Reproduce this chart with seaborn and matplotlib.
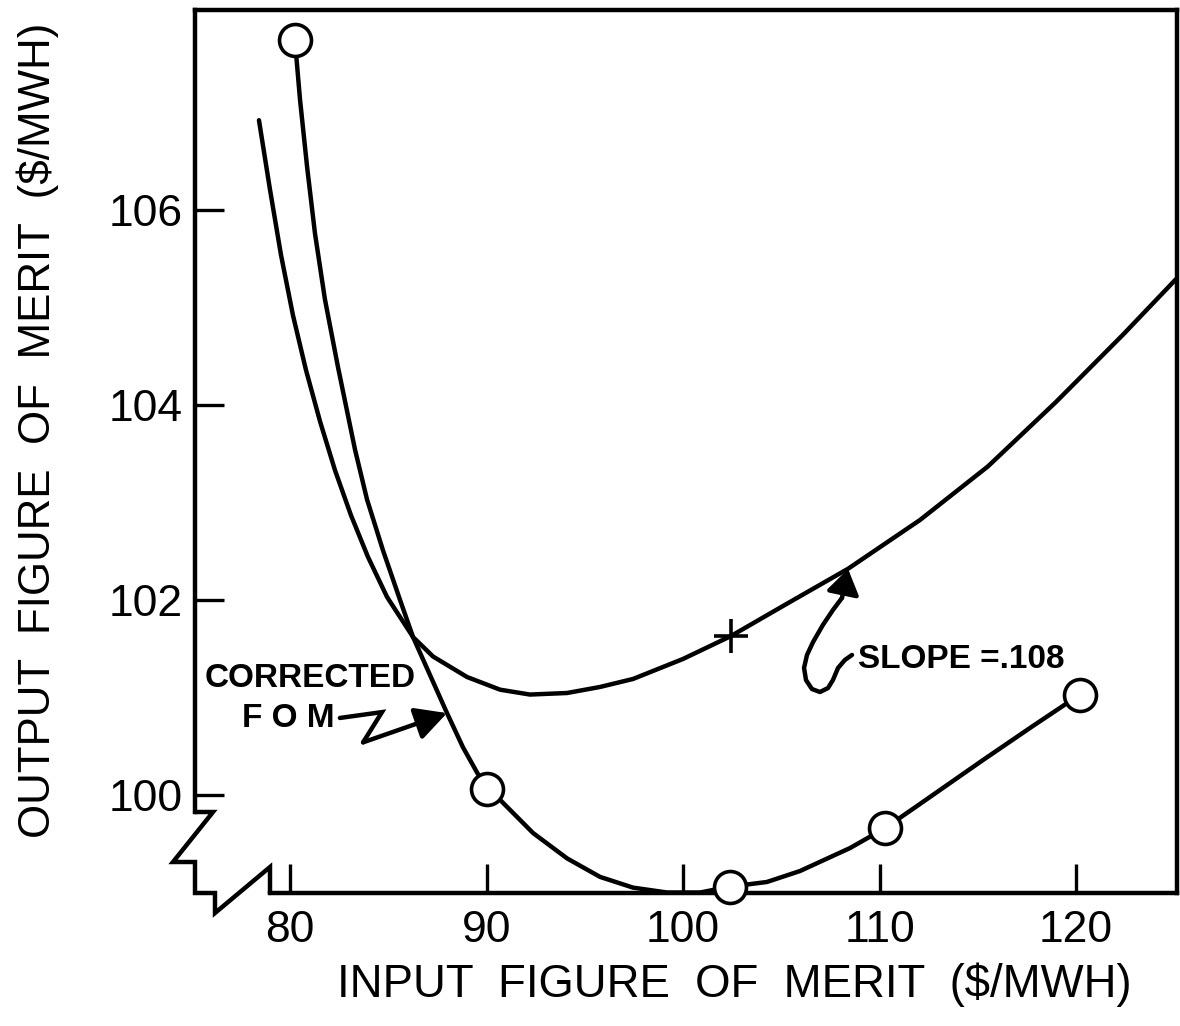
import matplotlib
matplotlib.use("Agg")
import matplotlib.pyplot as plt
from matplotlib.lines import Line2D
import seaborn as sns

sns.set_theme(style="white")
plt.rcParams["font.family"] = ["Liberation Sans", "DejaVu Sans"]

# ---- axis ticks -------------------------------------------------------------
x_ticks = [80, 90, 100, 110, 120]
y_ticks = [100, 102, 104, 106]

# ---- measured FOM curve (with circled data points) -------------------------
fom_x = [80.25, 80.51, 80.87, 81.27, 81.78, 82.44, 83.31, 83.92, 84.73, 85.60,
         86.26, 87.99, 88.80, 89.52, 90.03, 90.69, 92.37, 94.10, 95.78, 97.46,
         99.19, 100.87, 102.39, 104.27, 105.95, 108.50, 110.28, 111.91, 113.59,
         115.27, 117.81, 120.20]
fom_y = [107.74, 107.13, 106.44, 105.76, 105.08, 104.39, 103.54, 103.03, 102.51,
         102.00, 101.62, 100.84, 100.49, 100.23, 100.06, 99.95, 99.61, 99.35,
         99.16, 99.05, 99.00, 99.00, 99.06, 99.108, 99.22, 99.456, 99.66, 99.887,
         100.123, 100.359, 100.708, 101.03]

circ_x = [80.25, 90.03, 102.39, 110.28, 120.20]
circ_y = [107.74, 100.06, 99.06, 99.66, 101.03]

# ---- output FOM curve (tangent point marked with +) -------------------------
out_x = [78.42, 78.98, 79.54, 80.15, 80.81, 81.53, 82.29, 83.10, 83.97, 84.94,
         86.26, 87.28, 89.01, 90.69, 92.21, 94.10, 95.78, 97.46, 100.00, 102.44,
         105.19, 108.40, 112.06, 115.52, 118.98, 122.39, 125.09]
out_y = [106.92, 106.21, 105.54, 104.92, 104.36, 103.83, 103.33, 102.87, 102.44,
         102.03, 101.62, 101.42, 101.21, 101.08, 101.03, 101.046, 101.108, 101.19,
         101.395, 101.63, 101.95, 102.32, 102.82, 103.37, 104.03, 104.72, 105.29]

cross_x = [102.44]
cross_y = [101.63]

# ---- figure ---------------------------------------------------------------
W, H = 1180, 1026
px_left, px_right, px_top, px_bottom = 195, 1177, 10, 893
fig = plt.figure(figsize=(W / 100, H / 100), dpi=100)
ax = fig.add_axes([px_left / W, 1 - px_bottom / H,
                   (px_right - px_left) / W, (px_bottom - px_top) / H])

XL = (75.165, 125.14)
YL = (98.995, 108.05)

ink = "black"
lw = 3.2

sns.lineplot(x=fom_x, y=fom_y, sort=False, estimator=None, color=ink, lw=lw,
             solid_joinstyle="round", ax=ax)
sns.lineplot(x=out_x, y=out_y, sort=False, estimator=None, color=ink, lw=lw,
             solid_joinstyle="round", ax=ax)
sns.scatterplot(x=circ_x, y=circ_y, marker="o", s=23 ** 2, facecolor="white",
                edgecolor=ink, linewidth=2.6, zorder=5, clip_on=False, ax=ax)
sns.scatterplot(x=cross_x, y=cross_y, marker="+", s=25 ** 2, color=ink,
                linewidth=2.6, zorder=5, ax=ax)

ax.set_xlim(*XL)
ax.set_ylim(*YL)

# spines: full top/right frame, left and bottom stop at the axis break
for side in ["top", "right", "left", "bottom"]:
    ax.spines[side].set_visible(True)
    ax.spines[side].set_color(ink)
    ax.spines[side].set_linewidth(lw)
ax.spines["left"].set_bounds(99.826, YL[1])
ax.spines["bottom"].set_bounds(78.98, XL[1])

ax.set_xticks(x_ticks)
ax.set_yticks(y_ticks)
ax.set_xticklabels([str(v) for v in x_ticks])
ax.set_yticklabels([str(v) for v in y_ticks])
ax.tick_params(direction="in", length=21, width=2.4, colors=ink, labelsize=32,
               left=True, bottom=True, top=False, right=False)
ax.tick_params(axis="x", pad=12)
ax.tick_params(axis="y", pad=9)

# axis-break zig-zag in the lower-left corner
def frac(px, py):
    return ((px - px_left) / (px_right - px_left),
            (px_bottom - py) / (px_bottom - px_top))

brk = [frac(195, 812), frac(213, 812), frac(173, 862), frac(195, 862),
       frac(195, 893), frac(215, 893), frac(215, 913), frac(270, 867),
       frac(270, 893)]
ax.add_line(Line2D([p[0] for p in brk], [p[1] for p in brk], color=ink, lw=lw,
                   transform=ax.transAxes, clip_on=False,
                   solid_joinstyle="miter"))

# axis labels
ax.set_xlabel("INPUT  FIGURE  OF  MERIT  (\\$/MWH)", fontsize=32.8, color=ink,
              va="center")
ax.xaxis.set_label_coords(0.549, -0.104)
ax.set_ylabel("OUTPUT  FIGURE  OF  MERIT  (\\$/MWH)", fontsize=31.6, color=ink,
              va="center")
ax.yaxis.set_label_coords(-0.160, 0.524)

# "CORRECTED FOM" note with kinked arrow
ax.text(75.67, 101.108, "CORRECTED", fontsize=24, fontweight="bold", color=ink,
        ha="left", va="baseline")
ax.text(77.56, 100.70, "F O M", fontsize=24, fontweight="bold", color=ink,
        ha="left", va="baseline")
ax.plot([82.54, 84.68, 83.72], [100.79, 100.85, 100.54], color=ink, lw=lw,
        solid_joinstyle="miter")
ax.annotate("", xy=(87.99, 100.84), xytext=(83.72, 100.54),
            arrowprops=dict(arrowstyle="-|>,head_length=0.95,head_width=0.5",
                            mutation_scale=20, lw=lw, color=ink,
                            shrinkA=0, shrinkB=0))

# "SLOPE =.108" note with hooked arrow
ax.text(108.91, 101.30, "SLOPE =.108", fontsize=24, fontweight="bold",
        color=ink, ha="left", va="baseline")
hook_x = [108.60, 108.24, 107.89, 107.63, 107.38, 106.97, 106.56, 106.26,
          106.16, 106.31, 106.62, 107.12, 107.63, 108.09]
hook_y = [101.436, 101.385, 101.303, 101.179, 101.097, 101.056, 101.087,
          101.179, 101.303, 101.436, 101.569, 101.744, 101.897, 102.021]
ax.plot(hook_x, hook_y, color=ink, lw=lw, solid_capstyle="round",
        solid_joinstyle="round")
ax.annotate("", xy=(108.40, 102.318), xytext=(hook_x[-1], hook_y[-1]),
            arrowprops=dict(arrowstyle="-|>,head_length=0.75,head_width=0.5",
                            mutation_scale=20, lw=lw, color=ink,
                            shrinkA=0, shrinkB=0))

fig.savefig("out.png", dpi=100)
